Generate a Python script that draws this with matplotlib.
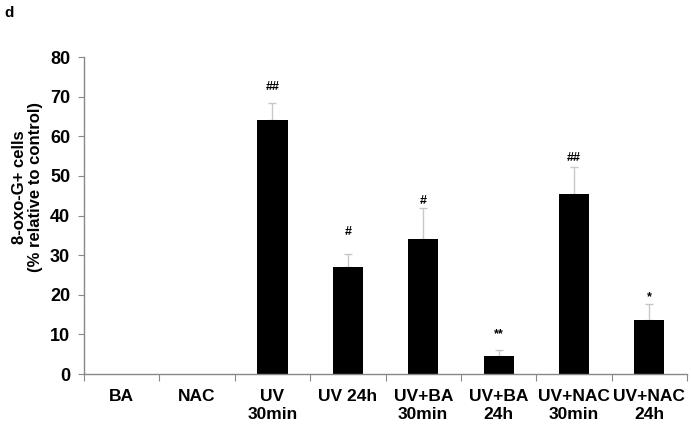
import matplotlib.pyplot as plt
import numpy as np

plt.rcParams['font.family'] = ['Liberation Sans', 'DejaVu Sans']

# data
categories = ['BA', 'NAC', 'UV\n30min', 'UV 24h', 'UV+BA\n30min', 'UV+BA\n24h',
              'UV+NAC\n30min', 'UV+NAC\n24h']
values = [0, 0, 64.0, 26.9, 34.2, 4.6, 45.4, 13.6]
errors = [0, 0, 4.3, 3.3, 7.6, 1.4, 6.9, 4.2]
marks = ['', '', '##', '#', '#', '**', '##', '*']
mark_y = [0, 0, 71.7, 35.1, 42.9, 9.3, 53.8, 18.7]

fig = plt.figure(figsize=(6.92, 4.26), dpi=100)
ax = fig.add_axes([0.1214, 0.122, 0.8714, 0.744])

x = np.arange(len(categories))
ax.bar(x, values, width=0.4, color='black', zorder=2)
ax.errorbar(x[2:], values[2:], yerr=[np.zeros(6), errors[2:]], fmt='none',
            ecolor='#c8c8c8', elinewidth=1, capsize=3, capthick=1, zorder=1)

for xi, ym, m in zip(x, mark_y, marks):
    if m:
        ax.text(xi, ym, m, ha='center', va='baseline',
                fontsize=9, fontweight='bold')

ax.set_xlim(-0.5, len(categories) - 0.5)
ax.set_ylim(0, 80)
ax.set_yticks(np.arange(0, 81, 10))
ax.set_yticklabels([str(v) for v in range(0, 81, 10)], fontsize=13, fontweight='bold')

# category labels centered, ticks between categories
ax.set_xticks(np.arange(-0.5, len(categories), 1.0))
ax.set_xticklabels([])
ax.set_xticks(x, minor=True)
ax.set_xticklabels(categories, minor=True, fontsize=12.5, fontweight='bold',
                   linespacing=1.25)
ax.tick_params(axis='x', which='minor', length=0, pad=11)
ax.tick_params(axis='x', which='major', length=5, color='#888888', direction='out')
ax.tick_params(axis='y', length=4, color='#888888', direction='out', pad=6)

for s in ['top', 'right']:
    ax.spines[s].set_visible(False)
for s in ['left', 'bottom']:
    ax.spines[s].set_color('#888888')
    ax.spines[s].set_linewidth(1)

ax.set_ylabel('8-oxo-G+ cells\n(% relative to control)', fontsize=12,
              fontweight='bold', linespacing=1.1)
ax.yaxis.set_label_coords(-0.068, 0.59)

fig.text(0.006, 0.985, 'd', fontsize=11, fontweight='bold', va='top', ha='left')

fig.savefig('out.png', dpi=100)
